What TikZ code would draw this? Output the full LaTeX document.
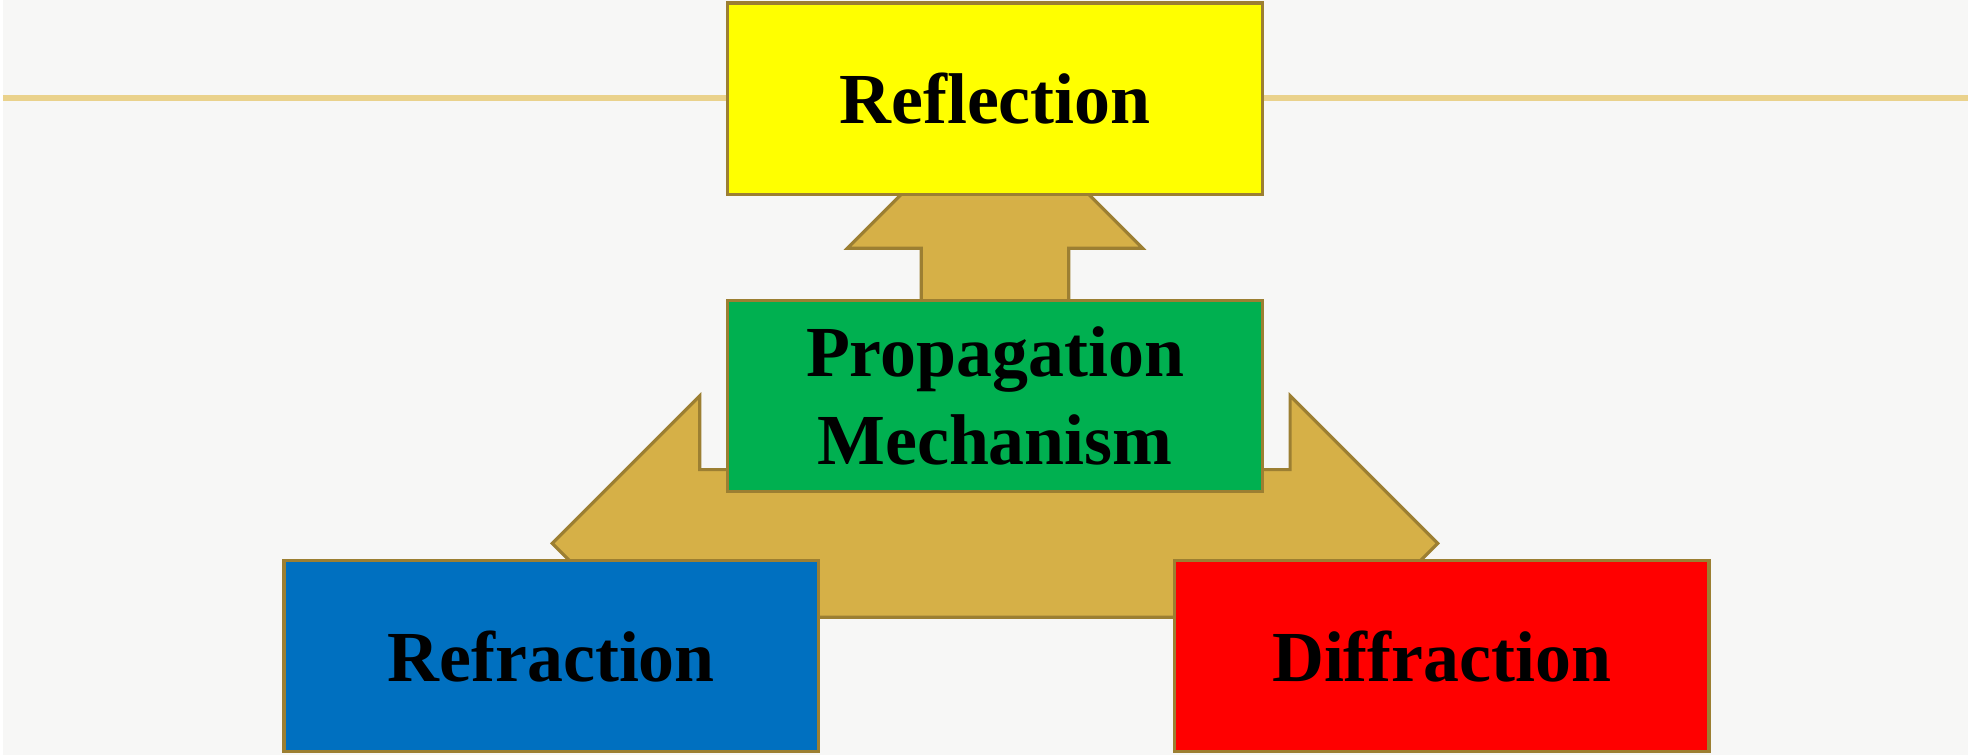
\documentclass[tikz,border=0pt]{standalone}
\usepackage{fontspec}
\setmainfont{Liberation Serif}
\definecolor{paper}{RGB}{247,247,246}
\definecolor{ruleline}{RGB}{234,210,140}
\definecolor{arrowgold}{RGB}{214,176,71}
\definecolor{edgebrown}{RGB}{156,127,50}
\definecolor{reflyellow}{RGB}{255,255,0}
\definecolor{propgreen}{RGB}{0,176,80}
\definecolor{refrblue}{RGB}{0,112,192}
\definecolor{diffred}{RGB}{255,0,0}

\begin{document}
\begin{tikzpicture}[
        node distance=2.98cm,
        box/.style={draw=edgebrown, line width=0.9pt, minimum width=5.36cm,
                    minimum height=1.92cm, inner sep=0pt, align=center,
                    font=\fontsize{20.5}{25}\selectfont\bfseries},
        bigarrow/.style={fill=arrowgold, draw=edgebrown, line width=0.9pt, line join=miter}
        ]
        \fill[paper] (0,0) rectangle (19.71,-7.57);
        \draw[ruleline, line width=1.6pt] (0,-0.985) -- (19.71,-0.985);

        \coordinate (hub) at (9.95,-3.97);
        \draw[bigarrow, shift={(hub)}, x=7.4mm, y=7.4mm]
              (-6,-2) -- (-4,0) -- (-4,-1) -- (-1,-1) -- (-1,2) -- (-2,2) -- (0,4)
              -- (2,2) -- (1,2) -- (1,-1) -- (4,-1) -- (4,0) -- (6,-2) -- (4,-4)
              -- (4,-3) -- (-4,-3) -- (-4,-4) -- cycle;

        \node[box, fill=propgreen] (prop) at (hub) {Propagation\\Mechanism};
        \node[box, fill=reflyellow] (refl) [above of=prop] {Reflection};
        \node[box, fill=refrblue] (refr) at (5.5,-6.58) {Refraction};
        \node[box, fill=diffred] (diff) at (14.43,-6.58) {Diffraction};
    \end{tikzpicture}
\end{document}
